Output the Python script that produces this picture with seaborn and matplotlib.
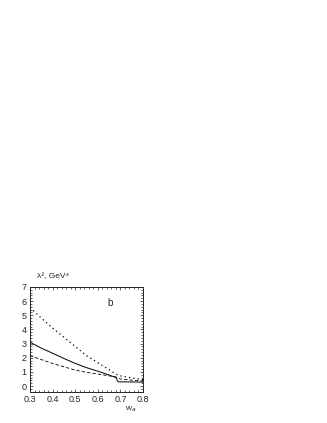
import numpy as np
import pandas as pd
import matplotlib
matplotlib.use("Agg")
import matplotlib.pyplot as plt
import seaborn as sns
from matplotlib.ticker import MultipleLocator

# curve values
w_dot = [0.30, 0.35, 0.40, 0.45, 0.50, 0.55, 0.60, 0.65, 0.68, 0.70, 0.75, 0.80]
lam_dot = [5.55, 4.80, 4.10, 3.45, 2.80, 2.15, 1.65, 1.15, 0.85, 0.72, 0.58, 0.45]

w_solid = [0.30, 0.35, 0.40, 0.45, 0.50, 0.55, 0.60, 0.65, 0.68, 0.69, 0.75, 0.80]
lam_solid = [3.10, 2.68, 2.32, 1.95, 1.60, 1.30, 1.05, 0.78, 0.60, 0.30, 0.29, 0.28]

w_dash = [0.30, 0.35, 0.40, 0.45, 0.50, 0.55, 0.60, 0.65, 0.68, 0.70, 0.75, 0.80]
lam_dash = [2.15, 1.87, 1.60, 1.36, 1.13, 0.97, 0.85, 0.72, 0.65, 0.50, 0.42, 0.35]

x_ticks = [0.3, 0.4, 0.5, 0.6, 0.7, 0.8]
y_ticks = [0, 1, 2, 3, 4, 5, 6, 7]

sns.set_style("ticks")
plt.rcParams['font.family'] = ['Liberation Sans', 'DejaVu Sans']

fig = plt.figure(figsize=(3.27, 4.23), dpi=100)
ax = fig.add_axes([30 / 327, 31 / 423, 113 / 327, 105 / 423])

sns.lineplot(x=w_dot, y=lam_dot, ax=ax, color="black", lw=0.9,
             linestyle=(0, (1, 2.5)))
sns.lineplot(x=w_solid, y=lam_solid, ax=ax, color="black", lw=0.7)
sns.lineplot(x=w_dash, y=lam_dash, ax=ax, color="black", lw=0.6,
             linestyle=(0, (4, 2.5)))

ax.set_xlim(0.3, 0.8)
ax.set_ylim(-0.42, 7)
ax.set_xticks(x_ticks)
ax.set_xticklabels([f"{t:.1f}" for t in x_ticks])
ax.set_yticks(y_ticks)
ax.xaxis.set_minor_locator(MultipleLocator(0.02))
ax.yaxis.set_minor_locator(MultipleLocator(0.2))
ax.tick_params(which="both", direction="in", top=True, right=True,
               labelsize=6.5, pad=2.5, width=0.5)
ax.tick_params(which="major", length=2.5)
ax.tick_params(which="minor", length=1.2)
for s in ax.spines.values():
    s.set_linewidth(0.7)

ax.text(0.654, 5.9, "b", fontsize=7, ha="center", va="center")
fig.text(37 / 327, 1 - 277 / 423, "λ², GeV⁴", fontsize=6, ha="left", va="center")
fig.text(131 / 327, 1 - 409 / 423, "w$_a$", fontsize=6, ha="center", va="center")

fig.savefig("out.png", dpi=100)
